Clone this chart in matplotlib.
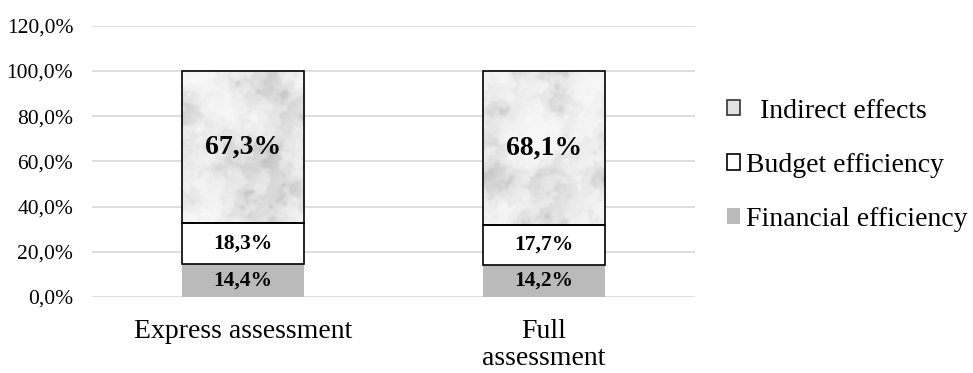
import numpy as np
import matplotlib
matplotlib.use("Agg")
import matplotlib.pyplot as plt
from matplotlib.patches import Patch

plt.rcParams["font.family"] = ["Liberation Serif", "DejaVu Serif"]

categories = ["Express assessment", "Full\nassessment"]
financial = [14.4, 14.2]
budget = [18.3, 17.7]
indirect = [67.3, 68.1]
yticks = [0, 20, 40, 60, 80, 100, 120]

GRID = "#D9D9D9"
FIN_GRAY = "#BABABA"


def marble(h, w, seed):
    # smooth grey noise built from a few blurred octaves, plus faint diagonal veins
    rng = np.random.default_rng(seed)
    fy = np.fft.fftfreq(h)[:, None]
    fx = np.fft.fftfreq(w)[None, :]
    img = np.zeros((h, w))
    for sigma, amp in [(0.012, 1.0), (0.035, 0.55), (0.09, 0.3)]:
        noise = rng.standard_normal((h, w))
        kern = np.exp(-(fx ** 2 + fy ** 2) / (2 * sigma ** 2))
        layer = np.real(np.fft.ifft2(np.fft.fft2(noise) * kern))
        img += amp * layer / layer.std()
    yy, xx = np.mgrid[0:h, 0:w]
    veins = np.sin((xx * 0.9 + yy * 0.6) / 9.0 + img * 1.5)
    img = img + 0.6 * np.abs(veins) ** 6
    img = (img - img.min()) / (img.max() - img.min())
    return 0.97 - 0.22 * img ** 2.2


fig = plt.figure(figsize=(9.73, 3.73), dpi=100)
ax = fig.add_axes([0.0946, 0.2038, 0.6195, 0.7272])

x = np.arange(len(categories))
width = 0.405

ax.bar(x, financial, width, color=FIN_GRAY, edgecolor="none", zorder=3)
ax.bar(x, budget, width, bottom=financial, color="white",
       edgecolor="black", linewidth=1.2, zorder=3)
bottom_ind = np.array(financial) + np.array(budget)
top_bars = ax.bar(x, indirect, width, bottom=bottom_ind, color="none",
                  edgecolor="black", linewidth=1.2, zorder=4)

# marble fill for the indirect-effects segments
for i, rect in enumerate(top_bars):
    x0, y0 = rect.get_x(), rect.get_y()
    x1, y1 = x0 + rect.get_width(), y0 + rect.get_height()
    tex = marble(150, 120, 7 + i)
    im = ax.imshow(tex, cmap="gray", vmin=0, vmax=1, extent=(x0, x1, y0, y1),
                   aspect="auto", interpolation="bicubic", zorder=2.5)
    im.set_clip_path(rect)

for i in range(len(categories)):
    ax.text(x[i], financial[i] / 2, f"{financial[i]:.1f}%".replace(".", ","),
            ha="center", va="center", fontsize=15.5, fontweight="bold", zorder=5)
    ax.text(x[i], financial[i] + budget[i] / 2, f"{budget[i]:.1f}%".replace(".", ","),
            ha="center", va="center", fontsize=15.5, fontweight="bold", zorder=5)
    ax.text(x[i], bottom_ind[i] + indirect[i] / 2, f"{indirect[i]:.1f}%".replace(".", ","),
            ha="center", va="center", fontsize=20, fontweight="bold", zorder=5)

ax.set_xlim(-0.5, 1.5)
ax.set_ylim(0, 120)
ax.set_yticks(yticks)
ax.set_yticklabels([f"{v:.1f}%".replace(".", ",") for v in yticks], fontsize=15.5)
ax.set_xticks(x)
ax.set_xticklabels(categories, fontsize=20, linespacing=1.12)
ax.tick_params(axis="both", length=0)
ax.tick_params(axis="y", pad=13.5)
ax.tick_params(axis="x", pad=16)
ax.yaxis.grid(True, color=GRID, linewidth=1.2, zorder=0)
ax.set_axisbelow(True)
for s in ax.spines.values():
    s.set_visible(False)

handles = [
    Patch(facecolor="#E2E2E2", edgecolor="#333333", linewidth=1.2),
    Patch(facecolor="white", edgecolor="black", linewidth=1.2),
    Patch(facecolor=FIN_GRAY, edgecolor="none"),
]
labels = ["  Indirect effects", "Budget efficiency", "Financial efficiency"]
fig.legend(handles, labels, loc="center left", bbox_to_anchor=(0.733, 0.557),
           frameon=False, fontsize=20, handlelength=0.47, handleheight=0.47,
           handletextpad=0.22, labelspacing=1.05, borderpad=0)

fig.savefig("out.png", dpi=100)
